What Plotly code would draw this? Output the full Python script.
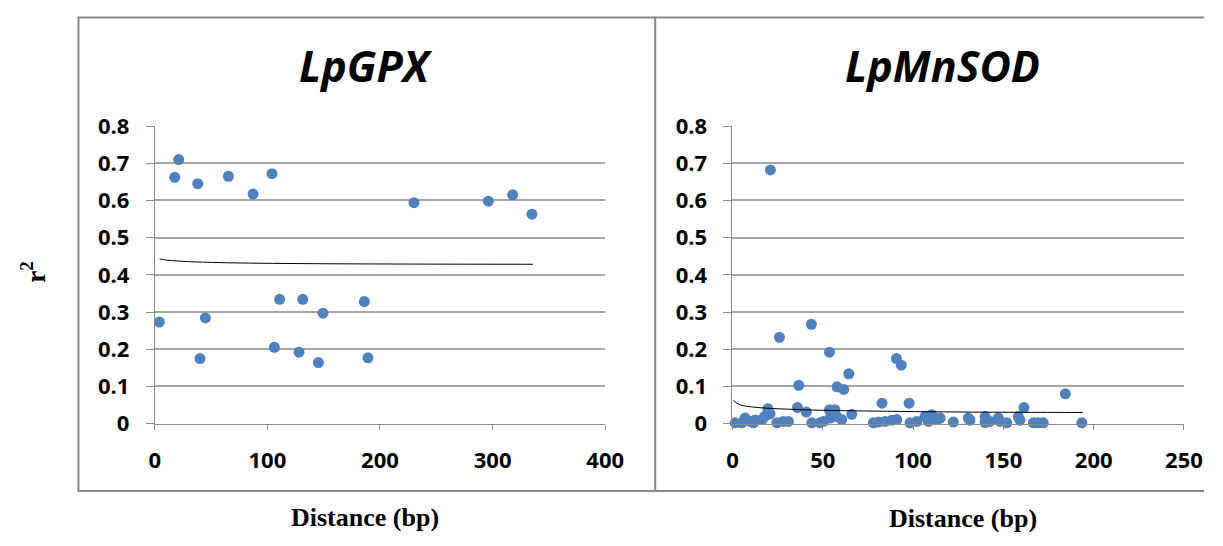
import plotly.graph_objects as go

# ---------------- data ----------------
gpx_dist = [21.3, 17.8, 38.2, 65.4, 87.3, 104.1, 230.2, 296.2, 317.8, 334.9,
            4.1, 45.0, 40.2, 110.9, 131.4, 149.4, 186.1, 106.2, 128.1, 145.3, 189.3]
gpx_r2 = [0.710, 0.662, 0.645, 0.665, 0.617, 0.672, 0.594, 0.598, 0.615, 0.563,
          0.273, 0.284, 0.175, 0.334, 0.334, 0.297, 0.328, 0.205, 0.192, 0.164, 0.177]

gpx_trend_x = [4.4, 9.5, 24.3, 56.2, 140.2, 335.8]
gpx_trend_y = [0.4426, 0.4399, 0.4364, 0.4330, 0.4300, 0.4284]

sod_dist = [21.0, 26.0, 43.7, 53.7, 90.8, 93.5, 64.4, 36.7, 57.9, 61.6,
            184.3, 82.8, 97.8, 161.4, 36.0, 19.6, 20.8, 40.9, 53.7, 56.8, 66.0,
            1.5, 5.2, 7.0, 9.8, 11.6, 12.5, 16.3, 17.7, 24.6, 28.2, 31.0, 43.9,
            48.5, 50.4, 54.1, 57.8, 60.5, 78.0, 80.8, 84.5, 88.2, 91.0, 98.3,
            102.1, 106.6, 109.4, 108.5, 110.3, 113.1, 115.0, 122.3, 130.6, 131.5,
            139.9, 139.9, 142.6, 147.2, 148.2, 151.9, 158.3, 159.2, 166.6, 169.3,
            172.1, 193.4]
sod_r2 = [0.682, 0.232, 0.267, 0.192, 0.175, 0.157, 0.134, 0.103, 0.099, 0.092,
          0.080, 0.055, 0.055, 0.043, 0.043, 0.040, 0.026, 0.031, 0.037, 0.037, 0.025,
          0.002, 0.002, 0.015, 0.006, 0.002, 0.010, 0.011, 0.019, 0.002, 0.006, 0.006, 0.002,
          0.002, 0.006, 0.015, 0.019, 0.011, 0.002, 0.004, 0.006, 0.009, 0.011, 0.002,
          0.006, 0.019, 0.019, 0.006, 0.024, 0.011, 0.015, 0.004, 0.015, 0.009,
          0.019, 0.003, 0.006, 0.015, 0.006, 0.002, 0.019, 0.009, 0.002, 0.002,
          0.002, 0.002]

sod_trend_x = [0.5, 4, 12.5, 41, 72.5, 131.5, 194]
sod_trend_y = [0.062, 0.051, 0.044, 0.037, 0.034, 0.031, 0.030]

titles = ["LpGPX", "LpMnSOD"]
x_label = "Distance (bp)"
y_label = "r<sup>2</sup>"

# ---------------- figure ----------------
W, H = 1223, 546
BLUE = "#4f81bd"
GRID = "#a6a6a6"
AXIS = "#8c8c8c"
FRAME = "#8a8a8a"

# mapping from target picture pixels to figure pixels (observed capture scaling)
SX, OX = 0.98, 5.5
SY, OY = 0.955, 12.1

def px(X):
    return min(max(((X - OX) / SX) / W, 0), 1)

def py(Y):
    return min(max(1 - ((Y - OY) / SY) / H, 0), 1)

fig = go.Figure()

fig.add_trace(go.Scatter(x=gpx_dist, y=gpx_r2, mode="markers", xaxis="x", yaxis="y",
                         marker=dict(color=BLUE, size=11), cliponaxis=False))
fig.add_trace(go.Scatter(x=gpx_trend_x, y=gpx_trend_y, mode="lines", xaxis="x", yaxis="y",
                         line=dict(color="black", width=1, shape="spline")))
fig.add_trace(go.Scatter(x=sod_dist, y=sod_r2, mode="markers", xaxis="x2", yaxis="y2",
                         marker=dict(color=BLUE, size=11), cliponaxis=False))
fig.add_trace(go.Scatter(x=sod_trend_x, y=sod_trend_y, mode="lines", xaxis="x2", yaxis="y2",
                         line=dict(color="black", width=1, shape="spline")))

tickfont = dict(family="Open Sans", size=22, color="black", weight="bold")
ydom = [py(424), py(123.3)]

common_x = dict(showline=True, linecolor=AXIS, linewidth=1, ticks="outside", ticklen=5,
                tickcolor=AXIS, showgrid=False, zeroline=False, tickfont=tickfont,
                ticklabelstandoff=12, fixedrange=True)
common_y = dict(showline=True, linecolor=AXIS, linewidth=1, ticks="outside", ticklen=8,
                tickcolor=AXIS, showgrid=True, gridcolor=GRID, gridwidth=1.5, zeroline=False,
                tickfont=tickfont, range=[0, 0.8], dtick=0.1, tick0=0,
                ticklabelstandoff=12, fixedrange=True, domain=ydom)

fig.update_layout(
    width=W, height=H,
    margin=dict(l=0, r=0, t=0, b=0),
    paper_bgcolor="white", plot_bgcolor="white",
    showlegend=False,
    xaxis=dict(common_x, domain=[px(154.3), px(605)], range=[0, 400], dtick=100, anchor="y"),
    yaxis=dict(common_y, anchor="x"),
    xaxis2=dict(common_x, domain=[px(732.3), px(1184)], range=[0, 250], dtick=50, anchor="y2"),
    yaxis2=dict(common_y, anchor="x2"),
)

# panel frames (kept inside the page)
frame = dict(color=FRAME, width=2)
top_y = 1 - 1.5 / H
fig.add_shape(type="rect", xref="paper", yref="paper", x0=px(78), x1=px(655), y0=py(492), y1=top_y,
              line=frame, layer="below")
fig.add_shape(type="line", xref="paper", yref="paper", x0=px(655), x1=1, y0=top_y, y1=top_y,
              line=frame, layer="below")
fig.add_shape(type="line", xref="paper", yref="paper", x0=px(655), x1=1, y0=py(492), y1=py(492),
              line=frame, layer="below")

# titles
for t, cx in zip(titles, [366, 942]):
    fig.add_annotation(x=px(cx), y=py(62), xref="paper", yref="paper", text=f"<b><i>{t}</i></b>",
                       showarrow=False, font=dict(family="Open Sans", size=43, color="black"),
                       xanchor="center", yanchor="middle")

# x labels (kept inside the page bottom)
label_y_page = [531, 532]
for cx, yp in zip([365, 963], label_y_page):
    fig.add_annotation(x=px(cx), y=1 - yp / H, xref="paper", yref="paper", text=f"<b>{x_label}</b>",
                       showarrow=False, font=dict(family="Liberation Serif", size=26, color="black"),
                       xanchor="center", yanchor="middle")

# y label
fig.add_annotation(x=px(33), y=py(271), xref="paper", yref="paper", text=f"<b>{y_label}</b>",
                   showarrow=False, textangle=-90,
                   font=dict(family="Liberation Serif", size=27, color="black"),
                   xanchor="center", yanchor="middle")

fig.write_html("out.html")
